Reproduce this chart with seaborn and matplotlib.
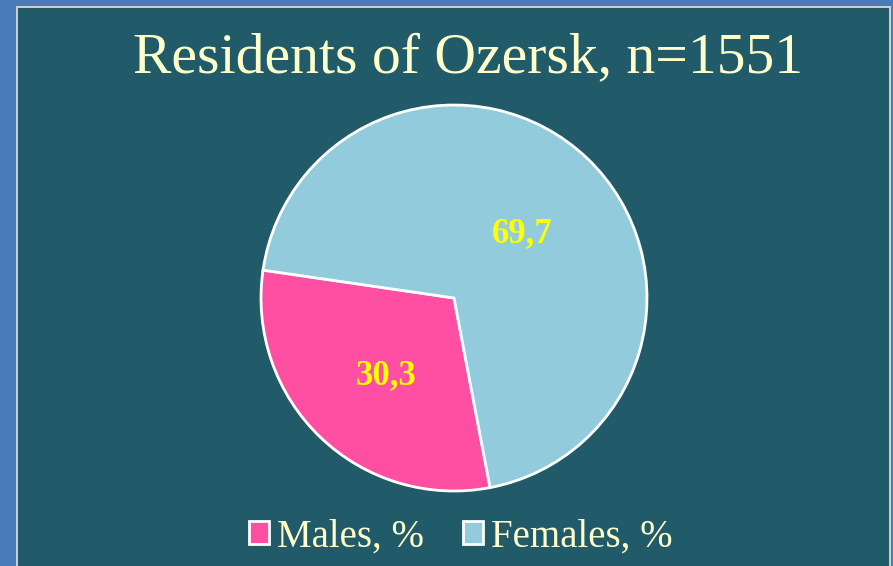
import matplotlib
matplotlib.use("Agg")
import matplotlib.pyplot as plt
from matplotlib.patches import Rectangle
import seaborn as sns

# data
groups = ["Males, %", "Females, %"]
shares = [30.3, 69.7]
colors = ["#ff4fa3", "#92cbdc"]

sns.set_style("white")
plt.rcParams["font.family"] = ["Liberation Serif", "DejaVu Serif"]

W, H = 893, 566
fig = plt.figure(figsize=(W / 100, H / 100), dpi=100, facecolor="#4a7aba")

# slide frame: thin grey line then dark teal panel
fig.patches.append(Rectangle((16 / W, 0), (891 - 16) / W, (H - 6) / H,
                             transform=fig.transFigure, facecolor="#c8cdd2",
                             edgecolor="none", zorder=-2))
fig.patches.append(Rectangle((18 / W, 0), (889 - 18) / W, (H - 8) / H,
                             transform=fig.transFigure, facecolor="#215a68",
                             edgecolor="none", zorder=-1))

fig.text(468 / W, 1 - 72 / H, "Residents of Ozersk, n=1551", ha="center",
         va="baseline", fontsize=41.5, color="#ffffcc")

cx, cy, r = 454, 298, 193
ax = fig.add_axes([(cx - r) / W, (H - cy - r) / H, 2 * r / W, 2 * r / H])
ax.set_facecolor("none")
wedges, _, autotexts = ax.pie(
    shares, colors=colors, startangle=171.7, counterclock=True,
    autopct=lambda p: f"{p:.1f}".replace(".", ","), pctdistance=0.51,
    wedgeprops=dict(edgecolor="white", linewidth=2),
    textprops=dict(color="#ffff00", fontsize=25, fontweight="bold"),
)
# nudge the value labels down a little, like the slide
for t in autotexts:
    x, y = t.get_position()
    t.set_position((x, y - 0.035))
ax.set_xlim(-1, 1)
ax.set_ylim(-1, 1)
ax.axis("off")

leg = fig.legend(wedges, groups, loc="center", bbox_to_anchor=(461 / W, 1 - 537 / H),
                 ncol=2, frameon=False, fontsize=28, handlelength=0.52,
                 handleheight=0.52, handletextpad=0.2, columnspacing=1.0,
                 labelcolor="#ffffcc")

fig.savefig("out.png", dpi=100, facecolor=fig.get_facecolor())
